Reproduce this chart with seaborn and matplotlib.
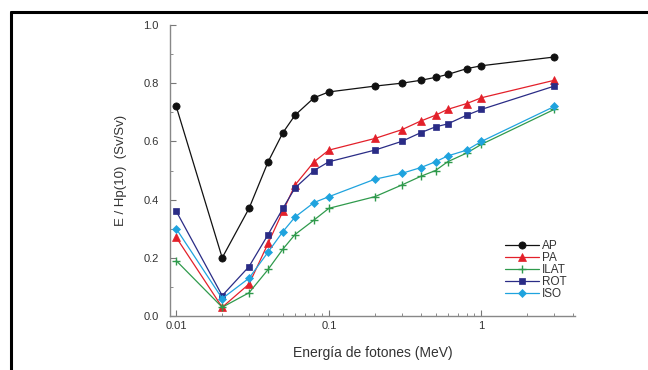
import matplotlib
matplotlib.use('Agg')
import matplotlib.pyplot as plt
from matplotlib.lines import Line2D
from matplotlib.ticker import FixedLocator, NullFormatter
import seaborn as sns
import pandas as pd
import numpy as np

# photon energies (MeV)
energy = [0.01, 0.02, 0.03, 0.04, 0.05, 0.06, 0.08, 0.1,
          0.2, 0.3, 0.4, 0.5, 0.6, 0.8, 1.0, 3.0]

ap = [0.72, 0.20, 0.37, 0.53, 0.63, 0.69, 0.75, 0.77,
      0.79, 0.80, 0.81, 0.82, 0.83, 0.85, 0.86, 0.89]
pa = [0.27, 0.03, 0.11, 0.25, 0.36, 0.45, 0.53, 0.57,
      0.61, 0.64, 0.67, 0.69, 0.71, 0.73, 0.75, 0.81]
ilat = [0.19, 0.03, 0.08, 0.16, 0.23, 0.28, 0.33, 0.37,
        0.41, 0.45, 0.48, 0.50, 0.53, 0.56, 0.59, 0.71]
rot = [0.36, 0.07, 0.17, 0.28, 0.37, 0.44, 0.50, 0.53,
       0.57, 0.60, 0.63, 0.65, 0.66, 0.69, 0.71, 0.79]
iso = [0.30, 0.06, 0.13, 0.22, 0.29, 0.34, 0.39, 0.41,
       0.47, 0.49, 0.51, 0.53, 0.55, 0.57, 0.60, 0.72]

series = [('AP', ap, '#111111', 'o', 5.2),
          ('PA', pa, '#e3202a', '^', 5.8),
          ('ILAT', ilat, '#2f9a4c', '+', 5.5),
          ('ROT', rot, '#2a2c86', 's', 5.0),
          ('ISO', iso, '#1fa3de', 'D', 4.5)]

sns.set_style('ticks')
plt.rcParams['font.family'] = ['Liberation Sans', 'DejaVu Sans']

fig = plt.figure(figsize=(6.48, 3.70), dpi=100)
ax = fig.add_axes([170/648, 1-316/370, (575-170)/648, (316-25)/370])

for name, vals, col, mk, ms in series:
    df = pd.DataFrame({'E': energy, 'val': vals})
    sns.lineplot(data=df, x='E', y='val', ax=ax, color=col, marker=mk,
                 markersize=ms, linewidth=0.9, label=name,
                 markeredgecolor=col, markeredgewidth=1.0 if mk == '+' else 0.5)

ax.set_xscale('log')
ax.set_xlim(0.0091, 4.1)
ax.set_ylim(0, 1.0)

ax.xaxis.set_major_locator(FixedLocator([0.01, 0.1, 1]))
ax.set_xticklabels(['0.01', '0.1', '1'])
minors = [k * 10.0**d for d in (-2, -1, 0) for k in range(2, 10)]
minors = [m for m in minors if m <= 4]
ax.xaxis.set_minor_locator(FixedLocator(minors))
ax.xaxis.set_minor_formatter(NullFormatter())
ax.set_yticks([0, 0.2, 0.4, 0.6, 0.8, 1.0])
ax.set_yticklabels(['0.0', '0.2', '0.4', '0.6', '0.8', '1.0'])
ax.set_yticks(np.arange(0.1, 1.0, 0.2), minor=True)

ax.tick_params(which='both', direction='in', color='#777777', labelsize=8,
               labelcolor='#333333')
ax.tick_params(which='major', length=4)
ax.tick_params(which='minor', length=2.5)
ax.tick_params(axis='y', pad=8)

sns.despine(ax=ax)
for s in ('left', 'bottom'):
    ax.spines[s].set_color('#888888')
    ax.spines[s].set_linewidth(1.0)

ax.set_xlabel('Energía de fotones (MeV)', fontsize=10, color='#333333', labelpad=11)
ax.set_ylabel('E / Hp(10)  (Sv/Sv)', fontsize=9.5, color='#333333', labelpad=12)

leg = ax.legend(loc='lower left', bbox_to_anchor=(0.827, 0.055), frameon=False,
                fontsize=8.5, handlelength=2.9, handletextpad=0.25,
                labelspacing=0.0, borderaxespad=0, borderpad=0)
for t in leg.get_texts():
    t.set_color('#333333')

# black frame around the figure (top and left edges)
fig.add_artist(Line2D([11/648, 1], [1-12/370, 1-12/370], color='black',
                      linewidth=2.2, transform=fig.transFigure))
fig.add_artist(Line2D([11/648, 11/648], [0, 1-12/370], color='black',
                      linewidth=2.2, transform=fig.transFigure))

fig.savefig('out.png', dpi=100)
